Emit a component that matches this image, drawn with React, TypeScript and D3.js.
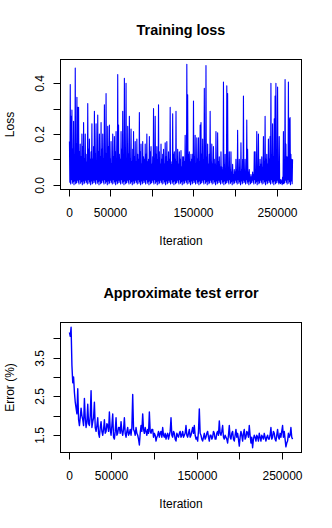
import React from "react";
import * as d3 from "d3";

// Training loss, one value every 500 iterations starting at 1000
const LOSS_START = 1000;
const LOSS_STEP = 500;
const LOSS: number[] = [
  0.17, 0.01, 0.395, 0.003, 0.27, 0.02, 0.295, 0.006, 0.14, 0.012, 0.25, 0.0, 0.12, 0.015, 0.46, 0.004, 0.16, 0.008, 0.345, 0.018,
  0.305, 0.01, 0.305, 0.003, 0.13, 0.02, 0.16, 0.006, 0.11, 0.012, 0.2, 0.0, 0.15, 0.015, 0.245, 0.004, 0.1, 0.008, 0.2, 0.018,
  0.12, 0.01, 0.09, 0.003, 0.32, 0.02, 0.14, 0.006, 0.18, 0.012, 0.1, 0.0, 0.13, 0.015, 0.24, 0.004, 0.1, 0.008, 0.15, 0.018,
  0.29, 0.01, 0.12, 0.003, 0.24, 0.02, 0.09, 0.006, 0.275, 0.012, 0.13, 0.0, 0.2, 0.015, 0.11, 0.004, 0.245, 0.008, 0.14, 0.018,
  0.2, 0.01, 0.1, 0.003, 0.315, 0.02, 0.09, 0.006, 0.36, 0.012, 0.12, 0.0, 0.23, 0.015, 0.15, 0.004, 0.235, 0.008, 0.1, 0.018,
  0.17, 0.01, 0.08, 0.003, 0.2, 0.02, 0.11, 0.006, 0.19, 0.012, 0.13, 0.0, 0.21, 0.015, 0.09, 0.004, 0.435, 0.008, 0.235, 0.018,
  0.12, 0.01, 0.1, 0.003, 0.21, 0.02, 0.14, 0.006, 0.29, 0.012, 0.11, 0.0, 0.42, 0.015, 0.13, 0.004, 0.4, 0.008, 0.1, 0.018,
  0.23, 0.01, 0.12, 0.003, 0.27, 0.02, 0.1, 0.006, 0.22, 0.012, 0.09, 0.0, 0.14, 0.015, 0.21, 0.004, 0.11, 0.008, 0.17, 0.018,
  0.09, 0.01, 0.18, 0.003, 0.12, 0.02, 0.1, 0.006, 0.285, 0.012, 0.13, 0.0, 0.16, 0.015, 0.08, 0.004, 0.17, 0.008, 0.11, 0.018,
  0.1, 0.01, 0.16, 0.003, 0.12, 0.02, 0.2, 0.006, 0.09, 0.012, 0.1, 0.0, 0.19, 0.015, 0.13, 0.004, 0.15, 0.008, 0.08, 0.018,
  0.11, 0.01, 0.3, 0.003, 0.09, 0.02, 0.27, 0.006, 0.12, 0.012, 0.15, 0.0, 0.1, 0.015, 0.315, 0.004, 0.13, 0.008, 0.08, 0.018,
  0.16, 0.01, 0.1, 0.003, 0.12, 0.02, 0.14, 0.006, 0.08, 0.012, 0.165, 0.0, 0.11, 0.015, 0.17, 0.004, 0.09, 0.008, 0.13, 0.018,
  0.1, 0.01, 0.305, 0.003, 0.08, 0.02, 0.09, 0.006, 0.28, 0.012, 0.12, 0.0, 0.13, 0.015, 0.1, 0.004, 0.29, 0.008, 0.09, 0.018,
  0.14, 0.01, 0.08, 0.003, 0.13, 0.02, 0.1, 0.006, 0.135, 0.012, 0.07, 0.0, 0.11, 0.015, 0.11, 0.004, 0.09, 0.008, 0.195, 0.018,
  0.1, 0.01, 0.475, 0.003, 0.355, 0.02, 0.12, 0.006, 0.13, 0.012, 0.09, 0.0, 0.12, 0.015, 0.1, 0.004, 0.12, 0.008, 0.33, 0.018,
  0.11, 0.01, 0.195, 0.003, 0.08, 0.02, 0.185, 0.006, 0.1, 0.012, 0.185, 0.0, 0.09, 0.015, 0.235, 0.004, 0.245, 0.008, 0.12, 0.018,
  0.18, 0.01, 0.1, 0.003, 0.38, 0.02, 0.09, 0.006, 0.47, 0.012, 0.11, 0.0, 0.16, 0.015, 0.08, 0.004, 0.12, 0.008, 0.29, 0.018,
  0.09, 0.01, 0.16, 0.003, 0.08, 0.02, 0.15, 0.006, 0.1, 0.012, 0.08, 0.0, 0.21, 0.015, 0.07, 0.004, 0.205, 0.008, 0.09, 0.018,
  0.11, 0.01, 0.07, 0.003, 0.13, 0.02, 0.07, 0.006, 0.06, 0.012, 0.405, 0.0, 0.08, 0.015, 0.12, 0.004, 0.06, 0.008, 0.39, 0.018,
  0.36, 0.01, 0.07, 0.003, 0.13, 0.02, 0.06, 0.006, 0.13, 0.012, 0.05, 0.0, 0.08, 0.015, 0.04, 0.004, 0.06, 0.008, 0.05, 0.018,
  0.1, 0.01, 0.06, 0.003, 0.215, 0.02, 0.05, 0.006, 0.1, 0.012, 0.05, 0.0, 0.165, 0.015, 0.06, 0.004, 0.1, 0.008, 0.35, 0.018,
  0.06, 0.01, 0.1, 0.003, 0.04, 0.02, 0.255, 0.006, 0.14, 0.012, 0.05, 0.0, 0.06, 0.015, 0.03, 0.004, 0.04, 0.008, 0.03, 0.018,
  0.05, 0.01, 0.04, 0.003, 0.13, 0.02, 0.13, 0.006, 0.06, 0.012, 0.21, 0.0, 0.06, 0.015, 0.2, 0.004, 0.07, 0.008, 0.1, 0.018,
  0.08, 0.01, 0.11, 0.003, 0.07, 0.02, 0.19, 0.006, 0.09, 0.012, 0.27, 0.0, 0.1, 0.015, 0.12, 0.004, 0.08, 0.008, 0.18, 0.018,
  0.1, 0.01, 0.19, 0.003, 0.4, 0.02, 0.12, 0.006, 0.24, 0.012, 0.11, 0.0, 0.26, 0.015, 0.35, 0.004, 0.4, 0.008, 0.13, 0.018,
  0.385, 0.01, 0.09, 0.003, 0.19, 0.008, 0.02, 0.004, 0.02, 0.008, 0.015, 0.0, 0.03, 0.005, 0.21, 0.004, 0.1, 0.008, 0.415, 0.018,
  0.16, 0.01, 0.11, 0.003, 0.11, 0.02, 0.405, 0.006, 0.26, 0.012, 0.265, 0.0, 0.12, 0.015, 0.1, 0.004, 0.1,
];

// Approximate test error (%), evaluated periodically
const ERR_START = 1000;
const ERR_STEP = 975;
const TEST_ERR: number[] = [
  4.15, 4.05, 4.28, 3.3, 2.85, 3.0, 2.6, 2.35, 2.2, 2.05, 2.7, 1.9, 1.75, 1.95, 2.2, 2.0, 1.9, 1.75, 2.45, 1.95,
  1.7, 1.85, 2.3, 1.8, 1.75, 2.0, 2.65, 1.7, 1.85, 1.95, 2.35, 1.7, 1.6, 1.75, 1.95, 1.55, 1.45, 1.7, 1.85, 1.6,
  1.5, 1.65, 1.9, 1.55, 1.6, 1.8, 1.75, 1.6, 2.1, 1.65, 1.5, 1.75, 2.05, 1.45, 1.4, 1.6, 1.95, 1.5, 1.55, 1.7,
  1.7, 1.55, 1.85, 1.6, 1.5, 1.65, 1.95, 1.55, 1.45, 1.6, 1.7, 1.5, 1.55, 1.65, 1.5, 1.7, 2.55, 1.65, 1.6, 1.5,
  1.7, 1.55, 1.5, 1.4, 1.25, 1.55, 1.75, 1.6, 2.05, 1.65, 1.55, 1.7, 1.6, 1.5, 1.65, 1.55, 2.1, 1.6, 1.55, 1.65,
  1.65, 1.45, 1.55, 1.5, 1.35, 1.45, 1.5, 1.6, 1.45, 1.55, 1.6, 1.45, 1.7, 1.5, 1.45, 1.55, 1.4, 1.5, 1.55, 1.4,
  1.5, 1.6, 1.95, 1.5, 1.45, 1.6, 1.55, 1.4, 1.35, 1.55, 1.5, 1.45, 1.55, 1.6, 1.45, 1.5, 1.6, 1.45, 1.5, 1.55,
  1.75, 1.5, 1.45, 1.55, 1.65, 1.45, 1.5, 1.6, 1.7, 1.55, 1.75, 1.5, 1.4, 1.45, 1.35, 1.6, 2.18, 1.55, 1.5, 1.4,
  1.35, 1.45, 1.55, 1.4, 1.45, 1.55, 1.6, 1.45, 1.35, 1.5, 1.5, 1.4, 1.45, 1.6, 1.55, 1.4, 1.4, 1.55, 1.6, 1.5,
  1.87, 1.55, 1.5, 1.6, 1.75, 1.45, 1.4, 1.5, 1.45, 1.4, 1.3, 1.5, 1.75, 1.45, 1.4, 1.55, 1.6, 1.4, 1.35, 1.5,
  1.65, 1.45, 1.55, 1.4, 1.22, 1.45, 1.6, 1.5, 1.35, 1.55, 1.65, 1.4, 1.45, 1.6, 1.55, 1.45, 1.75, 1.5, 1.3, 1.45,
  1.18, 1.4, 1.5, 1.45, 1.35, 1.5, 1.45, 1.35, 1.55, 1.45, 1.35, 1.5, 1.45, 1.4, 1.55, 1.45, 1.35, 1.45, 1.5, 1.4,
  1.4, 1.5, 1.7, 1.4, 1.45, 1.6, 1.55, 1.4, 1.35, 1.5, 1.65, 1.45, 1.4, 1.55, 1.45, 1.6, 1.75, 1.45, 1.6, 1.4,
  1.2, 1.3, 1.35, 1.55, 1.45, 1.5, 1.7, 1.45, 1.4,
];

const X_TICKS = [0, 50000, 100000, 150000, 200000, 250000];
const X_LABELS = ["0", "50000", "", "150000", "", "250000"];
const LOSS_TICKS = [0, 0.1, 0.2, 0.3, 0.4];
const LOSS_LABELS = ["0.0", "", "0.2", "", "0.4"];
const ERR_TICKS = [1.5, 2.0, 2.5, 3.0, 3.5, 4.0];
const ERR_LABELS = ["1.5", "", "2.5", "", "3.5", ""];

const FONT = "'Liberation Sans', Arial, Helvetica, sans-serif";

function padded(ext: [number, number]): [number, number] {
  const r = ext[1] - ext[0];
  return [ext[0] - 0.04 * r, ext[1] + 0.04 * r];
}

type PanelProps = {
  top: number;
  title: string;
  ylab: string;
  xs: number[];
  ys: number[];
  yTicks: number[];
  yLabels: string[];
  lineWidth: number;
};

function Panel({ top, title, ylab, xs, ys, yTicks, yLabels, lineWidth }: PanelProps) {
  const x0 = 60.5, x1 = 301.5;
  const y0 = top + 0.5, y1 = top + 130.5;
  const xScale = d3.scaleLinear().domain(padded(d3.extent(xs) as [number, number])).range([x0, x1]);
  const yScale = d3.scaleLinear().domain(padded(d3.extent(ys) as [number, number])).range([y1, y0]);
  const pts: [number, number][] = xs.map((x, i) => [x, ys[i]]);
  const line = d3
    .line<[number, number]>()
    .x((d) => xScale(d[0]))
    .y((d) => yScale(d[1]));
  const tickLen = 7;
  return (
    <g>
      <text x={181} y={top - 24.5} textAnchor="middle" fontFamily={FONT} fontWeight="bold" fontSize={14.4}>
        {title}
      </text>
      <path d={line(pts) || ""} fill="none" stroke="#0000ff" strokeWidth={lineWidth} strokeLinejoin="round" />
      <rect x={x0} y={y0} width={x1 - x0} height={y1 - y0} fill="none" stroke="#000" strokeWidth={1} />
      <line
        x1={Math.round(xScale(X_TICKS[0])) + 0.5}
        x2={Math.round(xScale(X_TICKS[X_TICKS.length - 1])) + 0.5}
        y1={y1}
        y2={y1}
        stroke="#000"
      />
      {X_TICKS.map((t, i) => {
        const px = Math.round(xScale(t)) + 0.5;
        return (
          <g key={"x" + i}>
            <line x1={px} x2={px} y1={y1} y2={y1 + tickLen} stroke="#000" />
            {X_LABELS[i] && (
              <text x={px} y={y1 + 27} textAnchor="middle" fontFamily={FONT} fontSize={12}>
                {X_LABELS[i]}
              </text>
            )}
          </g>
        );
      })}
      <line
        x1={x0}
        x2={x0}
        y1={Math.round(yScale(yTicks[0])) + 0.5}
        y2={Math.round(yScale(yTicks[yTicks.length - 1])) + 0.5}
        stroke="#000"
      />
      {yTicks.map((t, i) => {
        const py = Math.round(yScale(t)) + 0.5;
        return (
          <g key={"y" + i}>
            <line x1={x0 - tickLen} x2={x0} y1={py} y2={py} stroke="#000" />
            {yLabels[i] && (
              <text
                transform={`translate(43.5,${py}) rotate(-90)`}
                textAnchor="middle"
                fontFamily={FONT}
                fontSize={12}
              >
                {yLabels[i]}
              </text>
            )}
          </g>
        );
      })}
      <text x={181} y={y1 + 55} textAnchor="middle" fontFamily={FONT} fontSize={12}>
        Iteration
      </text>
      <text
        transform={`translate(13.5,${(y0 + y1) / 2}) rotate(-90)`}
        textAnchor="middle"
        fontFamily={FONT}
        fontSize={12}
      >
        {ylab}
      </text>
    </g>
  );
}

export default function App() {
  const lossIter = LOSS.map((_, i) => LOSS_START + i * LOSS_STEP);
  const errIter = TEST_ERR.map((_, i) => ERR_START + i * ERR_STEP);
  return (
    <svg
      width={332}
      height={528}
      style={{ position: "absolute", left: 0, top: 0, background: "#fff" }}
    >
      <rect width={332} height={528} fill="#fff" />
      <Panel
        top={59}
        title="Training loss"
        ylab="Loss"
        xs={lossIter}
        ys={LOSS}
        yTicks={LOSS_TICKS}
        yLabels={LOSS_LABELS}
        lineWidth={1.1}
      />
      <Panel
        top={322}
        title="Approximate test error"
        ylab="Error (%)"
        xs={errIter}
        ys={TEST_ERR}
        yTicks={ERR_TICKS}
        yLabels={ERR_LABELS}
        lineWidth={1.4}
      />
    </svg>
  );
}
